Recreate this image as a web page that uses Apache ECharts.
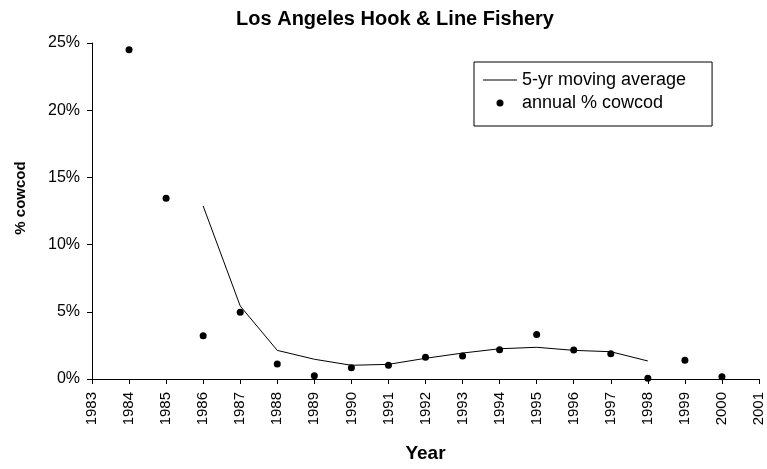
<!DOCTYPE html>
<html>
<head>
<meta charset="utf-8">
<script src="https://cdn.jsdelivr.net/npm/echarts@6/dist/echarts.min.js"></script>
<style>
  html, body { margin: 0; padding: 0; background: #fff; }
  #chart { width: 767px; height: 469px; }
</style>
</head>
<body>
<div id="chart"></div>
<script>
// annual % cowcod
const years = [1984, 1985, 1986, 1987, 1988, 1989, 1990, 1991, 1992, 1993, 1994, 1995, 1996, 1997, 1998, 1999, 2000];
const annual = [24.5, 13.45, 3.22, 4.96, 1.12, 0.25, 0.84, 1.02, 1.61, 1.71, 2.18, 3.32, 2.16, 1.88, 0.05, 1.39, 0.17];

// 5-yr moving average
const avgYears = [1986, 1987, 1988, 1989, 1990, 1991, 1992, 1993, 1994, 1995, 1996, 1997, 1998];
const avgValues = [12.87, 5.43, 2.13, 1.47, 1.02, 1.09, 1.54, 1.93, 2.25, 2.36, 2.13, 2.03, 1.34];

const font = 'Liberation Sans, Arial, sans-serif';

var chartDom = document.getElementById('chart');
var myChart = echarts.init(chartDom);
var option;

option = {
    animation: false,
    title: {
        text: 'Los Angeles Hook & Line Fishery',
        left: 390,
        top: 4,
        textAlign: 'center',
        textStyle: { fontFamily: font, fontSize: 20, fontWeight: 'bold', color: '#000' }
    },
    legend: {
        orient: 'vertical',
        left: 474,
        top: 62,
        itemWidth: 34,
        itemHeight: 7,
        itemGap: 5,
        padding: [9, 26, 14, 9],
        borderColor: '#000',
        borderWidth: 1,
        borderRadius: 0,
        backgroundColor: '#fff',
        textStyle: { fontFamily: font, fontSize: 18, color: '#000' },
        data: [
            { name: '5-yr moving average', icon: 'path://M0,0H340V10H0Z' },
            { name: 'annual % cowcod', icon: 'circle' }
        ]
    },
    grid: { left: 92, right: 8, top: 43, bottom: 90 },
    xAxis: {
        type: 'value',
        min: 1983,
        max: 2001,
        interval: 1,
        name: 'Year',
        nameLocation: 'middle',
        nameGap: 65,
        nameTextStyle: { fontFamily: font, fontSize: 19, fontWeight: 'bold', color: '#000' },
        axisLine: { lineStyle: { color: '#000', width: 1 } },
        axisTick: { inside: false, length: 5, lineStyle: { color: '#000' } },
        axisLabel: {
            rotate: 90,
            margin: 13,
            fontFamily: font, fontSize: 15, color: '#000',
            formatter: function(v) { return String(v); }
        },
        splitLine: { show: false }
    },
    yAxis: {
        type: 'value',
        min: 0,
        max: 25,
        interval: 5,
        name: '% cowcod',
        nameLocation: 'middle',
        nameRotate: 90,
        nameGap: 64,
        nameTextStyle: { fontFamily: font, fontSize: 15, fontWeight: 'bold', color: '#000', padding: [0, 0, 0, 26] },
        axisLine: { show: true, lineStyle: { color: '#000', width: 1 } },
        axisTick: { show: true, length: 5, lineStyle: { color: '#000' } },
        axisLabel: {
            margin: 12,
            fontFamily: font, fontSize: 16, color: '#000',
            formatter: function(v) { return v + '%'; }
        },
        splitLine: { show: false }
    },
    series: [
        {
            name: '5-yr moving average',
            type: 'line',
            symbol: 'none',
            data: avgYears.map((y, i) => [y, avgValues[i]]),
            lineStyle: { color: '#000', width: 1 },
            itemStyle: { color: '#000' }
        },
        {
            name: 'annual % cowcod',
            type: 'scatter',
            symbol: 'circle',
            symbolSize: 7,
            data: years.map((y, i) => [y, annual[i]]),
            itemStyle: { color: '#000', opacity: 1 }
        }
    ]
};

myChart.setOption(option);
</script>
</body>
</html>
